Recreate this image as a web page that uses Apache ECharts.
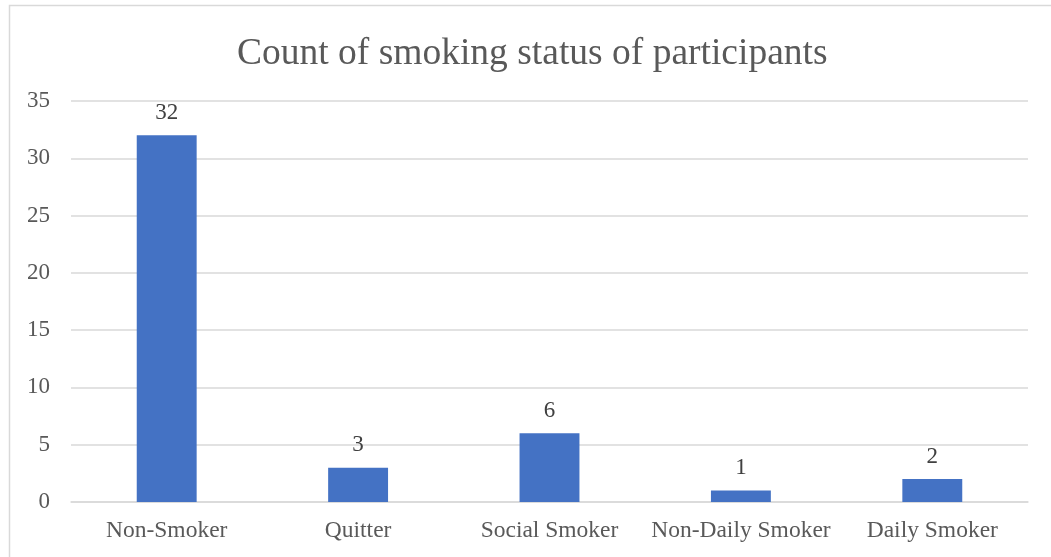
<!DOCTYPE html>
<html>
<head>
<meta charset="utf-8">
<style>
  html, body { margin: 0; padding: 0; background: #ffffff; }
  #chart { width: 1051px; height: 557px; }
</style>
<script src="https://cdn.jsdelivr.net/npm/echarts@6/dist/echarts.min.js"></script>
</head>
<body>
<div id="chart"></div>
<script>
// Smoking status categories and participant counts
const categories = ['Non-Smoker', 'Quitter', 'Social Smoker', 'Non-Daily Smoker', 'Daily Smoker'];
const counts = [32, 3, 6, 1, 2];
const yTicks = { min: 0, max: 35, interval: 5 };

const serif = '"Liberation Serif", "Times New Roman", serif';

const chart = echarts.init(document.getElementById('chart'), null, { renderer: 'canvas' });

chart.setOption({
  animation: false,
  backgroundColor: '#ffffff',
  title: {
    text: 'Count of smoking status of participants',
    left: 232,
    top: 30,
    textStyle: {
      fontFamily: serif,
      fontSize: 37.5,
      fontWeight: 'normal',
      color: '#595959'
    }
  },
  graphic: [{
    type: 'rect',
    silent: true,
    shape: { x: 9.5, y: 5.5, width: 1200, height: 700 },
    style: { fill: 'none', stroke: '#d9d9d9', lineWidth: 1.5 }
  }],
  grid: {
    left: 71,
    right: 1051 - 1028,
    top: 101,
    bottom: 557 - 502,
    containLabel: false
  },
  xAxis: {
    type: 'category',
    data: categories,
    axisLine: { show: true, lineStyle: { color: '#d9d9d9', width: 1.5 } },
    axisTick: { show: false },
    axisLabel: {
      fontFamily: serif,
      fontSize: 23.5,
      color: '#595959',
      margin: 17,
      interval: 0
    }
  },
  yAxis: {
    type: 'value',
    min: yTicks.min,
    max: yTicks.max,
    interval: yTicks.interval,
    axisLine: { show: false },
    axisTick: { show: false },
    splitLine: { lineStyle: { color: '#d9d9d9', width: 1.5 } },
    axisLabel: {
      fontFamily: serif,
      fontSize: 23,
      color: '#595959',
      margin: 21
    }
  },
  series: [{
    type: 'bar',
    data: counts,
    barWidth: '31.3%',
    itemStyle: { color: '#4472c4' },
    label: {
      show: true,
      position: 'top',
      distance: 11,
      fontFamily: serif,
      fontSize: 23,
      color: '#404040'
    }
  }]
});
</script>
</body>
</html>
